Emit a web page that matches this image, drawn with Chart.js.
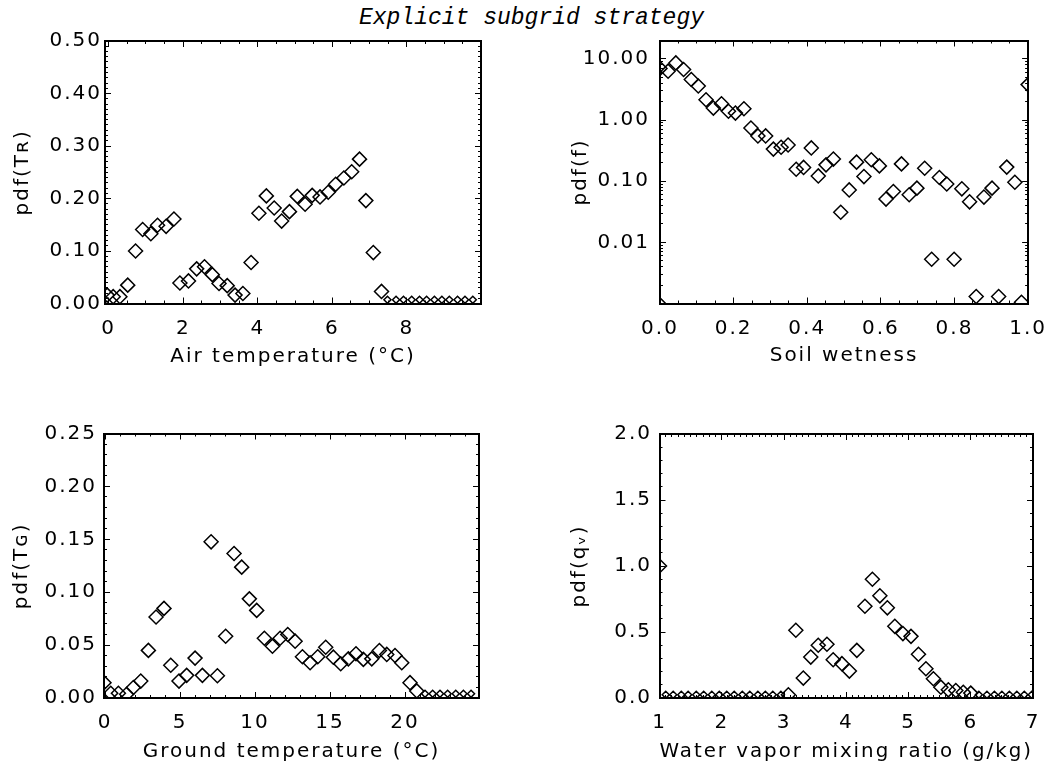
<!DOCTYPE html>
<html>
<head>
<meta charset="utf-8">
<script src="https://cdn.jsdelivr.net/npm/chart.js@4.4.1/dist/chart.umd.min.js"></script>
<style>
  html, body { margin: 0; padding: 0; background: #fff; }
  #wrap { position: relative; width: 1063px; height: 768px; overflow: hidden; background: #fff; }
  .panel { position: absolute; }
  #title { position: absolute; left: 0; top: 5px; width: 1063px; text-align: center;
           font: italic 23px "Liberation Mono", monospace; line-height: 26px; color: #000; }
</style>
</head>
<body>
<div id="wrap">
  <div id="title">Explicit subgrid strategy</div>
  <div class="panel" style="left:0;top:0;"><canvas id="c1" width="530" height="384"></canvas></div>
  <div class="panel" style="left:540px;top:0;"><canvas id="c2" width="523" height="384"></canvas></div>
  <div class="panel" style="left:0;top:384px;"><canvas id="c3" width="530" height="384"></canvas></div>
  <div class="panel" style="left:540px;top:384px;"><canvas id="c4" width="523" height="384"></canvas></div>
</div>
<script>
// ---------------- DATA ----------------
// Panel 1: Air temperature (°C) vs pdf(T_R)
const airT_x = [-0.04,0.12,0.30,0.51,0.72,0.91,1.13,1.31,1.54,1.75,1.91,2.14,2.36,2.57,2.78,2.96,3.18,3.39,3.60,3.82,4.03,4.23,4.44,4.64,4.85,5.06,5.27,5.46,5.67,5.89,6.09,6.31,6.52,6.73,6.90,7.10,7.32];
const airT_y = [0.016,0.013,0.013,0.035,0.100,0.141,0.133,0.149,0.147,0.161,0.039,0.043,0.066,0.070,0.055,0.038,0.034,0.016,0.019,0.078,0.172,0.205,0.182,0.157,0.175,0.204,0.189,0.206,0.203,0.212,0.227,0.239,0.251,0.275,0.196,0.097,0.023];
const airT_emptyX = [7.48,7.71,7.91,8.13,8.34,8.53,8.74,8.94,9.14,9.36,9.56,9.77];
const airT_emptyY = [0.007,0.007,0.007,0.007,0.007,0.007,0.007,0.007,0.007,0.007,0.007,0.007];
const airT_ticksX = [0,2,4,6,8];
const airT_ticksY = [0,0.1,0.2,0.3,0.4,0.5];

// Panel 2: Soil wetness vs pdf(f) (log axis)
const soil_x = [0.0,0.0,0.022,0.043,0.064,0.085,0.104,0.125,0.145,0.167,0.186,0.205,0.228,0.247,0.266,0.287,0.308,0.329,0.348,0.370,0.390,0.411,0.430,0.451,0.471,0.491,0.514,0.534,0.554,0.574,0.596,0.614,0.634,0.656,0.677,0.698,0.719,0.738,0.759,0.779,0.799,0.820,0.841,0.859,0.880,0.902,0.920,0.942,0.964,0.982,1.0];
const soil_y = [0.00095,7.0,6.3,8.6,6.7,4.6,3.6,2.15,1.57,1.85,1.39,1.30,1.53,0.74,0.55,0.55,0.335,0.36,0.39,0.157,0.168,0.35,0.122,0.185,0.23,0.031,0.072,0.205,0.119,0.224,0.178,0.051,0.068,0.192,0.060,0.077,0.163,0.0053,0.115,0.090,0.0053,0.075,0.046,0.0013,0.055,0.077,0.0013,0.17,0.096,0.00105,3.8];
const soil_ticksX = [0,0.2,0.4,0.6,0.8,1.0];
const soil_ticksY = [0.01,0.1,1,10];

// Panel 3: Ground temperature (°C) vs pdf(T_G)
const groundT_x = [-0.07,0.38,0.89,1.44,1.89,2.38,2.89,3.4,3.93,4.38,4.93,5.44,6.0,6.49,7.07,7.49,8.04,8.6,9.11,9.62,10.11,10.62,11.16,11.67,12.18,12.67,13.16,13.67,14.18,14.71,15.22,15.71,16.22,16.73,17.22,17.78,18.29,18.78,19.33,19.78,20.33,20.78];
const groundT_y = [0.0145,0.0045,0.0045,0.0036,0.0099,0.016,0.045,0.0765,0.0847,0.031,0.016,0.0214,0.0377,0.0214,0.1476,0.021,0.0584,0.1366,0.1237,0.0937,0.0828,0.0565,0.049,0.0565,0.06,0.0537,0.039,0.0333,0.039,0.048,0.0386,0.0324,0.037,0.0418,0.0365,0.037,0.0449,0.0412,0.0402,0.0333,0.0145,0.0067];
const groundT_emptyX = [21.33,21.84,22.33,22.84,23.38,23.89,24.4];
const groundT_emptyY = [0.004,0.004,0.004,0.004,0.004,0.004,0.004];
const groundT_ticksX = [0,5,10,15,20];
const groundT_ticksY = [0,0.05,0.10,0.15,0.20,0.25];

// Panel 4: Water vapor mixing ratio (g/kg) vs pdf(q_v)
const qv_x = [1.0,3.07,3.19,3.31,3.43,3.55,3.69,3.79,3.93,4.05,4.17,4.30,4.42,4.54,4.66,4.78,4.91,5.04,5.16,5.28,5.40,5.52,5.64,5.76,5.88,6.00];
const qv_y = [1.0,0.024,0.513,0.151,0.31,0.40,0.407,0.29,0.26,0.204,0.361,0.695,0.90,0.774,0.683,0.543,0.488,0.467,0.331,0.222,0.146,0.082,0.062,0.057,0.044,0.037];
const qv_emptyX = [1.10,1.22,1.35,1.46,1.59,1.71,1.84,1.96,2.08,2.20,2.33,2.45,2.58,2.70,2.82,2.95,6.13,6.26,6.38,6.50,6.62,6.74,6.86,6.98];
const qv_emptyY = [0.024,0.024,0.024,0.024,0.024,0.024,0.024,0.024,0.024,0.024,0.024,0.024,0.024,0.024,0.024,0.024,0.024,0.024,0.024,0.024,0.024,0.024,0.024,0.024];
const qv_ticksX = [1,2,3,4,5,6,7];
const qv_ticksY = [0,0.5,1.0,1.5,2.0];

// ---------------- helpers ----------------
const FONT = { family: '"DejaVu Sans", sans-serif', size: 20 };
const MAJOR = 6, MINOR = 3;

function zip(xs, ys) { return xs.map((x, i) => ({ x: x, y: ys[i] })); }
function steps(a, b, step) {
  const out = []; const n = Math.round((b - a) / step);
  for (let i = 0; i <= n; i++) out.push(+(a + i * step).toFixed(6));
  return out;
}
function logMinor(lo, hi) {
  const out = [];
  for (let e = -4; e <= 3; e++) for (let k = 1; k <= 9; k++) {
    const v = +(k * Math.pow(10, e)).toPrecision(6);
    if (v >= lo * 0.999 && v <= hi * 1.001) out.push(v);
  }
  return out;
}
const setTicks = list => s => { s.ticks = list.map(v => ({ value: v })); };

const letterSpacingPlugin = {
  id: 'letterSpacing',
  beforeDraw(chart) { chart.ctx.letterSpacing = '2px'; }
};

function tickAxis(type, min, max, position, weight, list, len, border, sizeKey) {
  return {
    type, min, max, bounds: 'data', position, weight,
    afterBuildTicks: setTicks(list),
    afterFit: s => { s[sizeKey] = 0; },
    ticks: { display: false },
    grid: { drawOnChartArea: false, drawTicks: true, tickLength: -len, tickColor: '#000', tickWidth: 1 },
    border: { display: border, color: '#000', width: 2 }
  };
}

function makePanel(id, p) {
  const scales = {
    x: {
      type: p.xType, min: p.xMin, max: p.xMax, bounds: 'data', position: 'bottom', weight: 1,
      afterBuildTicks: setTicks(p.xMajor),
      afterFit: s => { s.height = p.xAxisH; },
      ticks: { display: true, autoSkip: false, maxRotation: 0, minRotation: 0, font: FONT, color: '#000',
               padding: p.xTickPad, callback: v => p.xFmt(v) },
      grid: { drawOnChartArea: false, drawTicks: true, tickLength: -MAJOR, tickColor: '#000', tickWidth: 1 },
      border: { display: true, color: '#000', width: 2 },
      title: { display: true, text: p.xTitle, font: FONT, color: '#000', padding: { top: 0, bottom: p.xTitlePad } }
    },
    xm: tickAxis(p.xType, p.xMin, p.xMax, 'bottom', 0, p.xMinor, MINOR, false, 'height'),
    xt: tickAxis(p.xType, p.xMin, p.xMax, 'top', 1, p.xMajor, MAJOR, true, 'height'),
    xtm: tickAxis(p.xType, p.xMin, p.xMax, 'top', 0, p.xMinor, MINOR, false, 'height'),
    y: {
      type: p.yType, min: p.yMin, max: p.yMax, bounds: 'data', position: 'left', weight: 1,
      afterBuildTicks: setTicks(p.yMajor),
      afterFit: s => { s.width = p.yAxisW; },
      ticks: { display: true, autoSkip: false, font: FONT, color: '#000', padding: p.yTickPad, callback: v => p.yFmt(v) },
      grid: { drawOnChartArea: false, drawTicks: true, tickLength: -MAJOR, tickColor: '#000', tickWidth: 1 },
      border: { display: true, color: '#000', width: 2 },
      title: { display: true, text: p.yTitle, font: FONT, color: '#000', padding: { top: p.yTitlePad, bottom: 0 } }
    },
    ym: tickAxis(p.yType, p.yMin, p.yMax, 'left', 0, p.yMinor, MINOR, false, 'width'),
    yr: tickAxis(p.yType, p.yMin, p.yMax, 'right', 1, p.yMajor, MAJOR, true, 'width'),
    yrm: tickAxis(p.yType, p.yMin, p.yMax, 'right', 0, p.yMinor, MINOR, false, 'width')
  };
  const pointBase = { pointStyle: 'rectRot', pointBorderColor: '#000', pointBackgroundColor: 'rgba(0,0,0,0)',
                      pointBorderWidth: 1.5, showLine: false, clip: 0, xAxisID: 'x', yAxisID: 'y' };
  const datasets = [Object.assign({ label: 'pdf', data: p.data, pointRadius: 7 }, pointBase)];
  if (p.empty) datasets.push(Object.assign({ label: 'empty bins', data: p.empty, pointRadius: 3.5 }, pointBase));
  return new Chart(document.getElementById(id), {
    type: 'scatter',
    data: { datasets },
    options: {
      responsive: false, animation: false, devicePixelRatio: 1,
      layout: { padding: { top: p.padTop, right: p.padRight, left: 0, bottom: 0 } },
      plugins: { legend: { display: false }, tooltip: { enabled: false }, title: { display: false } },
      scales
    },
    plugins: [letterSpacingPlugin]
  });
}

const f0 = v => Number(v).toFixed(0), f1 = v => Number(v).toFixed(1), f2 = v => Number(v).toFixed(2);

makePanel('c1', {
  data: zip(airT_x, airT_y), empty: zip(airT_emptyX, airT_emptyY),
  xType: 'linear', xMin: -0.1, xMax: 9.99, xMajor: airT_ticksX, xMinor: steps(0, 9.5, 0.5), xFmt: f0,
  yType: 'linear', yMin: 0, yMax: 0.5, yMajor: airT_ticksY, yMinor: steps(0, 0.5, 0.01), yFmt: f2,
  xTitle: 'Air temperature (°C)', yTitle: 'pdf(Tʀ)',
  yAxisW: 105, xAxisH: 80.5, padTop: 41, padRight: 49,
  xTickPad: 19, xTitlePad: 15, yTickPad: 9, yTitlePad: 11
});
makePanel('c2', {
  data: zip(soil_x, soil_y),
  xType: 'linear', xMin: 0, xMax: 1, xMajor: soil_ticksX, xMinor: steps(0, 1, 0.05), xFmt: f1,
  yType: 'logarithmic', yMin: 0.001, yMax: 20, yMajor: soil_ticksY, yMinor: logMinor(0.001, 20), yFmt: f2,
  xTitle: 'Soil wetness', yTitle: 'pdf(f)',
  yAxisW: 120, xAxisH: 80.5, padTop: 40.5, padRight: 30,
  xTickPad: 19, xTitlePad: 16, yTickPad: 16, yTitlePad: 29
});
makePanel('c3', {
  data: zip(groundT_x, groundT_y), empty: zip(groundT_emptyX, groundT_emptyY),
  xType: 'linear', xMin: -0.07, xMax: 24.93, xMajor: groundT_ticksX, xMinor: steps(0, 24, 1), xFmt: f0,
  yType: 'linear', yMin: 0, yMax: 0.25, yMajor: groundT_ticksY, yMinor: steps(0, 0.25, 0.01), yFmt: f2,
  xTitle: 'Ground temperature (°C)', yTitle: 'pdf(Tɢ)',
  yAxisW: 104, xAxisH: 70, padTop: 49.5, padRight: 51,
  xTickPad: 19, xTitlePad: 4, yTickPad: 13, yTitlePad: 10
});
makePanel('c4', {
  data: zip(qv_x, qv_y), empty: zip(qv_emptyX, qv_emptyY),
  xType: 'linear', xMin: 1, xMax: 7, xMajor: qv_ticksX, xMinor: steps(1, 7, 0.1), xFmt: f0,
  yType: 'linear', yMin: 0, yMax: 2, yMajor: qv_ticksY, yMinor: steps(0, 2, 0.1), yFmt: f1,
  xTitle: 'Water vapor mixing ratio (g/kg)', yTitle: 'pdf(qᵥ)',
  yAxisW: 119.5, xAxisH: 70, padTop: 50, padRight: 30,
  xTickPad: 19, xTitlePad: 4, yTickPad: 13.5, yTitlePad: 28
});
</script>
</body>
</html>
